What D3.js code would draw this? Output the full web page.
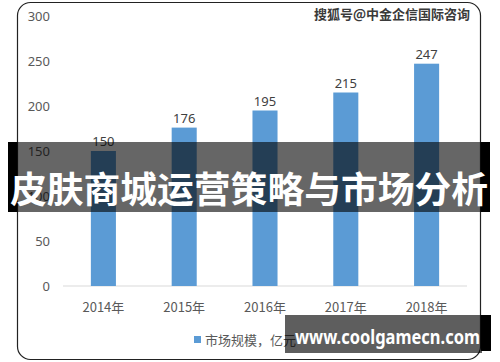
<!DOCTYPE html>
<html>
<head>
<meta charset="utf-8">
<script src="https://cdn.jsdelivr.net/npm/d3@7/dist/d3.min.js"></script>
<style>
  html, body { margin: 0; padding: 0; background: #fff; }
  svg { display: block; font-family: "Noto Sans", "Noto Sans CJK SC", sans-serif; }
</style>
</head>
<body>
<svg id="chart" width="500" height="362"></svg>
<script>
// chart data
var years = ['2014年', '2015年', '2016年', '2017年', '2018年'];
var marketSize = [150, 176, 195, 215, 247];
var yTicks = [0, 50, 100, 150, 200, 250, 300];
var seriesName = '市场规模，亿元';
var sourceNote = '搜狐号@中金企信国际咨询';
var bannerTitle = '皮肤商城运营策略与市场分析';
var siteMark = 'www.coolgamecn.com';

var svg = d3.select('#chart');
var cjk = '"Noto Sans CJK SC", "Noto Sans", sans-serif';

// outer frame
svg.append('rect')
  .attr('x', 17.5).attr('y', 2.5)
  .attr('width', 463).attr('height', 357)
  .attr('rx', 13)
  .attr('fill', '#fff')
  .attr('stroke', '#222')
  .attr('stroke-width', 1.2);

var x = d3.scaleBand()
  .domain(years)
  .range([63, 467])
  .paddingInner(0.69)
  .paddingOuter(0.345);

var y = d3.scaleLinear()
  .domain([0, 300])
  .range([286, 16]);

// y tick labels (no gridlines)
svg.append('g').selectAll('text')
  .data(yTicks)
  .join('text')
  .attr('x', 50)
  .attr('y', function(d) { return y(d); })
  .attr('dy', '0.35em')
  .attr('text-anchor', 'end')
  .attr('font-size', 13)
  .attr('fill', '#595959')
  .text(function(d) { return d; });

// baseline
svg.append('line')
  .attr('x1', 63).attr('x2', 467)
  .attr('y1', y(0)).attr('y2', y(0))
  .attr('stroke', '#d9d9d9')
  .attr('stroke-width', 1);

// bars
svg.append('g').selectAll('rect')
  .data(marketSize)
  .join('rect')
  .attr('x', function(d, i) { return x(years[i]); })
  .attr('y', function(d) { return y(d); })
  .attr('width', x.bandwidth())
  .attr('height', function(d) { return y(0) - y(d); })
  .attr('fill', '#5b9bd5');

// value labels
svg.append('g').selectAll('text')
  .data(marketSize)
  .join('text')
  .attr('x', function(d, i) { return x(years[i]) + x.bandwidth() / 2; })
  .attr('y', function(d) { return y(d) - 5; })
  .attr('text-anchor', 'middle')
  .attr('font-size', 13)
  .attr('fill', '#404040')
  .text(function(d) { return d; });

// category labels
svg.append('g').selectAll('text')
  .data(years)
  .join('text')
  .attr('x', function(d) { return x(d) + x.bandwidth() / 2; })
  .attr('y', 312)
  .attr('text-anchor', 'middle')
  .attr('font-size', 13)
  .attr('fill', '#595959')
  .style('font-family', cjk)
  .text(function(d) { return d; });

// legend
svg.append('rect')
  .attr('x', 194).attr('y', 336)
  .attr('width', 7).attr('height', 7)
  .attr('fill', '#5b9bd5');
svg.append('text')
  .attr('x', 205).attr('y', 344.5)
  .attr('font-size', 13)
  .attr('fill', '#595959')
  .style('font-family', cjk)
  .text(seriesName);

// source note top right
svg.append('text')
  .attr('x', 470).attr('y', 19)
  .attr('text-anchor', 'end')
  .attr('font-size', 13)
  .attr('font-weight', 'bold')
  .attr('fill', '#3a3a3a')
  .style('font-family', cjk)
  .text(sourceNote);

// title banner overlay
svg.append('rect')
  .attr('x', 8).attr('y', 142)
  .attr('width', 9.5).attr('height', 70)
  .attr('fill', '#000');
svg.append('rect')
  .attr('x', 480.5).attr('y', 142)
  .attr('width', 9.5).attr('height', 70)
  .attr('fill', '#000');
svg.append('rect')
  .attr('x', 17.5).attr('y', 142)
  .attr('width', 463).attr('height', 70)
  .attr('fill', 'rgba(0,0,0,0.6)');
svg.append('text')
  .attr('x', 249).attr('y', 187)
  .attr('dominant-baseline', 'central')
  .attr('text-anchor', 'middle')
  .attr('font-size', 36)
  .attr('font-weight', 'bold')
  .attr('fill', '#fff')
  .attr('textLength', 478)
  .attr('lengthAdjust', 'spacingAndGlyphs')
  .style('font-family', cjk)
  .text(bannerTitle);

// site watermark bottom right
svg.append('rect')
  .attr('x', 285).attr('y', 315)
  .attr('width', 197).attr('height', 38)
  .attr('fill', 'rgba(0,0,0,0.63)');
svg.append('rect')
  .attr('x', 481).attr('y', 315)
  .attr('width', 10).attr('height', 36)
  .attr('fill', '#000');
svg.append('text')
  .attr('x', 295).attr('y', 344)
  .attr('font-size', 20)
  .attr('font-weight', 'bold')
  .attr('fill', '#fff')
  .attr('textLength', 185)
  .attr('lengthAdjust', 'spacingAndGlyphs')
  .text(siteMark);
</script>
</body>
</html>
